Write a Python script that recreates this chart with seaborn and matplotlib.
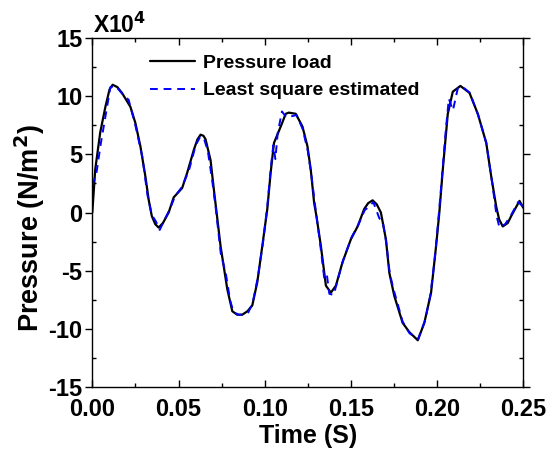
import matplotlib
matplotlib.use("Agg")
import matplotlib.pyplot as plt
import seaborn as sns
import pandas as pd
from matplotlib.ticker import MultipleLocator

# ---- data (pressure in units of 1e4 N/m^2) ----
t_load = [0.0, 0.0017, 0.0046, 0.0076, 0.0100, 0.0118, 0.0145, 0.0172, 0.0221, 0.0250,
          0.0279, 0.0308, 0.0327, 0.0345, 0.0365, 0.0385, 0.0410, 0.0443, 0.0472, 0.0521,
          0.0550, 0.0589, 0.0610, 0.0628, 0.0645, 0.0657, 0.0686, 0.0705, 0.0744, 0.0783,
          0.0812, 0.0840, 0.0870, 0.0900, 0.0928, 0.0957, 0.0986, 0.1015, 0.1035, 0.1054,
          0.1093, 0.1122, 0.1140, 0.1180, 0.1219, 0.1248, 0.1267, 0.1287, 0.1300, 0.1326,
          0.1355, 0.1384, 0.1413, 0.1451, 0.1500, 0.1539, 0.1577, 0.1600, 0.1626, 0.1650,
          0.1674, 0.1703, 0.1723, 0.1752, 0.1800, 0.1839, 0.1888, 0.1926, 0.1965, 0.1994,
          0.2013, 0.2033, 0.2062, 0.2091, 0.2135, 0.2188, 0.2236, 0.2285, 0.2314, 0.2343,
          0.2360, 0.2381, 0.2410, 0.2430, 0.2478, 0.2500]
p_load = [0.0, 3.7, 6.9, 9.1, 10.6, 11.0, 10.8, 10.3, 9.1, 7.7,
          5.7, 3.1, 1.1, -0.3, -1.0, -1.3, -0.9, 0.0, 1.3, 2.1,
          3.4, 5.4, 6.3, 6.7, 6.6, 6.3, 4.5, 2.0, -2.9, -6.6,
          -8.5, -8.8, -8.8, -8.5, -8.0, -6.0, -2.9, 0.3, 3.5, 6.0,
          7.4, 8.5, 8.6, 8.5, 7.4, 5.7, 3.7, 0.8, -0.3, -2.9,
          -6.3, -6.9, -6.3, -4.3, -2.3, -1.2, 0.3, 0.8, 1.05, 0.7,
          0.0, -2.3, -5.2, -7.2, -9.5, -10.3, -11.0, -9.5, -6.9, -2.9,
          0.0, 3.7, 8.5, 10.4, 10.9, 10.3, 8.5, 6.0, 3.1, 0.5,
          -0.6, -1.2, -0.9, -0.3, 1.0, 0.4]

t_est = [0.0, 0.0025, 0.0050, 0.0080, 0.0105, 0.0135, 0.0175, 0.0211, 0.0250, 0.0290,
         0.0320, 0.0345, 0.0370, 0.0391, 0.0420, 0.0450, 0.0480, 0.0520, 0.0560, 0.0600,
         0.0625, 0.0645, 0.0670, 0.0695, 0.0715, 0.0745, 0.0775, 0.0800, 0.0820, 0.0850,
         0.0880, 0.0905, 0.0930, 0.0960, 0.0990, 0.1015, 0.1035, 0.1050, 0.1062, 0.1075,
         0.1100, 0.1125, 0.1160, 0.1185, 0.1220, 0.1250, 0.1270, 0.1295, 0.1320, 0.1345,
         0.1360, 0.1375, 0.1400, 0.1420, 0.1455, 0.1505, 0.1545, 0.1580, 0.1605, 0.1630,
         0.1665, 0.1685, 0.1705, 0.1725, 0.1745, 0.1770, 0.1800, 0.1840, 0.1890, 0.1930,
         0.1960, 0.1985, 0.2005, 0.2025, 0.2050, 0.2068, 0.2092, 0.2120, 0.2150, 0.2190,
         0.2240, 0.2285, 0.2320, 0.2345, 0.2362, 0.2395, 0.2430, 0.2470, 0.2500]
p_est = [2.3, 3.5, 6.0, 8.6, 10.8, 10.9, 10.2, 9.7, 7.5, 4.8,
         1.5, -0.2, -0.8, -1.5, -0.6, 0.3, 1.4, 2.2, 3.6, 5.8,
         6.5, 6.5, 5.3, 2.8, 0.5, -3.5, -5.3, -7.6, -8.6, -8.8,
         -8.8, -8.6, -7.8, -5.6, -2.6, 0.5, 3.8, 5.8, 4.6, 6.8,
         8.7, 8.2, 8.3, 8.4, 7.2, 5.3, 3.3, 0.3, -2.5, -5.6,
         -5.3, -7.0, -7.1, -6.0, -4.1, -2.1, -1.0, 0.2, 0.5, 0.9,
         -0.5, -0.8, -2.6, -5.2, -6.5, -7.8, -9.4, -10.4, -10.9, -9.3,
         -7.2, -4.2, -1.0, 2.5, 7.0, 9.8, 8.8, 10.7, 10.8, 10.3,
         8.3, 6.0, 2.5, -0.3, -1.3, -1.0, -0.2, 0.9, 0.5]

x_ticks = [0.00, 0.05, 0.10, 0.15, 0.20, 0.25]
y_ticks = [-15, -10, -5, 0, 5, 10, 15]

# ---- plotting ----
sns.set_theme(style="white")
plt.rcParams['font.family'] = ['Liberation Sans', 'DejaVu Sans']
plt.rcParams['font.weight'] = 'bold'
plt.rcParams['axes.labelweight'] = 'bold'
plt.rcParams['text.color'] = 'black'
plt.rcParams['axes.labelcolor'] = 'black'
plt.rcParams['xtick.color'] = 'black'
plt.rcParams['ytick.color'] = 'black'
plt.rcParams['mathtext.default'] = 'bf'

fig = plt.figure(figsize=(5.48, 4.59), dpi=100)
ax = fig.add_axes([92.3 / 548, 1 - 386.7 / 459, (523.3 - 92.3) / 548, (386.7 - 38.3) / 459])

df_load = pd.DataFrame({"t": t_load, "p": p_load})
df_est = pd.DataFrame({"t": t_est, "p": p_est})

sns.lineplot(data=df_load, x="t", y="p", ax=ax, color="black", linewidth=1.6,
             label="Pressure load", sort=False, estimator=None)
sns.lineplot(data=df_est, x="t", y="p", ax=ax, color="#0000ff", linewidth=1.4,
             label="Least square estimated", sort=False, estimator=None)
ax.lines[1].set_dashes([4, 3])

ax.set_xlim(0, 0.25)
ax.set_ylim(-15, 15)
ax.set_xticks(x_ticks)
ax.set_xticklabels([f"{v:.2f}" for v in x_ticks])
ax.set_yticks(y_ticks)
ax.set_yticklabels([str(v) for v in y_ticks])
ax.xaxis.set_minor_locator(MultipleLocator(0.025))
ax.yaxis.set_minor_locator(MultipleLocator(2.5))

for s in ax.spines.values():
    s.set_color("black")
    s.set_linewidth(1.0)

ax.tick_params(axis='x', which='major', direction='in', length=5, width=1, top=True,
               bottom=True, labelsize=17, pad=8, colors='black')
ax.tick_params(axis='x', which='minor', direction='in', length=3, width=1, top=True, bottom=True)
ax.tick_params(axis='y', which='major', direction='out', length=5, width=1, left=True,
               labelsize=17, pad=2, colors='black')
ax.tick_params(axis='y', which='minor', direction='in', length=3, width=1, left=True)
ax.tick_params(axis='y', which='both', right=True)
for lab in ax.get_xticklabels() + ax.get_yticklabels():
    lab.set_fontweight('bold')

ax.set_xlabel("Time (S)", fontsize=18, fontweight='bold', labelpad=2, color='black')
ax.set_ylabel("Pressure (N/m$^{2}$)", fontsize=19.5, fontweight='bold',
              color='black')
ax.yaxis.set_label_coords(-0.105, 0.455)

fig.text(93 / 548, 1 - 33 / 459, "X10$^{4}$", fontsize=16.5, fontweight='bold',
         ha='left', va='baseline', color='black')

leg = ax.legend(loc='upper left', bbox_to_anchor=(0.125, 0.965), frameon=False,
                fontsize=14, handlelength=2.3, handletextpad=0.4, labelspacing=0.5,
                borderpad=0.2, borderaxespad=0)
for txt in leg.get_texts():
    txt.set_fontweight('bold')
    txt.set_color('black')

fig.savefig("out.png", dpi=100)
